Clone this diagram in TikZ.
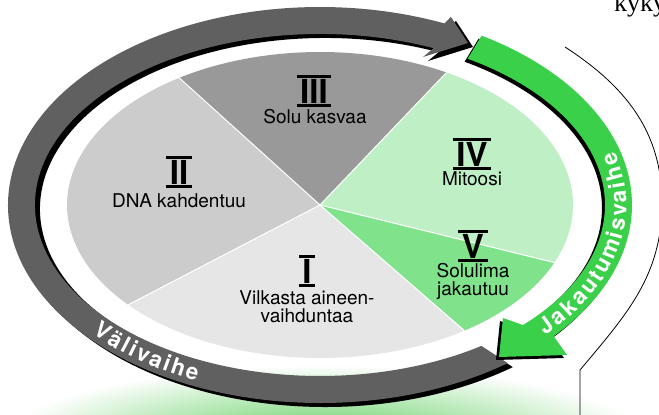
\documentclass[tikz,border=0pt]{standalone}
\usepackage{fontspec}
\setmainfont{TeX Gyre Heros}
\newfontfamily\kykyserif{Liberation Serif}
\usetikzlibrary{calc}
\definecolor{bandgrey}{RGB}{96,96,96}
\definecolor{bandgreen}{RGB}{59,208,73}
\definecolor{pieIII}{RGB}{153,153,153}
\definecolor{pieII}{RGB}{204,204,204}
\definecolor{pieI}{RGB}{230,230,230}
\definecolor{pieIV}{RGB}{191,239,196}
\definecolor{pieV}{RGB}{128,226,139}
\definecolor{glowgreen}{RGB}{90,205,90}
\newcommand\bandfont{\fontsize{22.5}{22.5}\selectfont\bfseries}
\newcommand\numfont{\fontsize{33}{33}\selectfont\bfseries}
\newcommand\rn[1]{\vbox{\hrule height 3.4pt\kern0.5pt\hbox{\kern3.5pt\numfont#1\kern3.5pt}\kern0.5pt\hrule height 3.4pt}}
\def\greyarrow{([shift={(307:312 and 198)}]320,210) arc[start angle=307,end angle=66.5,x radius=312,y radius=198] -- (451,398) -- (468,372) -- (423,358) -- ([shift={(66.5:285 and 171)}]320,210) arc[start angle=66.5,end angle=304.5,x radius=285,y radius=171] -- cycle}
\def\greenarrow{([shift={(58.8:312 and 198)}]320,210) arc[start angle=58.8,end angle=-41.5,x radius=312,y radius=198] -- (567,60) -- (499,58) -- (503,97) -- ([shift={(-44.6:285 and 171)}]320,210) arc[start angle=-44.6,end angle=58.8,x radius=285,y radius=171] -- cycle}
\begin{document}
\begin{tikzpicture}[x=1pt,y=1pt,
  lbl/.style={font=\fontsize{19}{19}\selectfont, text=black, inner sep=0, anchor=base},
  numlbl/.style={inner sep=0, anchor=center},
  bandlbl/.style={font=\bandfont, text=white, inner sep=0, anchor=base},
  sep/.style={draw=white, line width=1pt},
  outline/.style={draw=black, line width=0.8pt}]
\useasboundingbox (0,0) rectangle (659,415);
% green glow below the ring
\shade[inner color=glowgreen, outer color=white] (325,-25) ellipse [x radius=320, y radius=75];
% grey arrow (Välivaihe)
\fill[black, shift={(5,-4)}] \greyarrow;
\fill[bandgrey] \greyarrow;
% green arrow (Jakautumisvaihe)
\fill[black, shift={(-3,-3)}] \greenarrow;
\fill[bandgreen] \greenarrow;
% pie
\coordinate (C) at (320,210);
\fill[pieIII] (C) -- ([shift={(60:253 and 153)}]320,210) arc[start angle=60,end angle=123.8,x radius=253,y radius=153] -- cycle;
\fill[pieII] (C) -- ([shift={(123.8:253 and 153)}]320,210) arc[start angle=123.8,end angle=220.7,x radius=253,y radius=153] -- cycle;
\fill[pieI] (C) -- ([shift={(220.7:253 and 153)}]320,210) arc[start angle=220.7,end angle=304.8,x radius=253,y radius=153] -- cycle;
\fill[pieV] (C) -- ([shift={(304.8:253 and 153)}]320,210) arc[start angle=304.8,end angle=337.9,x radius=253,y radius=153] -- cycle;
\fill[pieIV] (C) -- ([shift={(337.9:253 and 153)}]320,210) arc[start angle=337.9,end angle=420,x radius=253,y radius=153] -- cycle;
\foreach \a in {60,123.8,220.7,304.8,337.9} \draw[sep] (C) -- ([shift={(\a:253 and 153)}]320,210);
% labels
\node[numlbl] (n3) at (314,324) {\rn{III}};
\node[lbl] (t3) at (315,291) {Solu kasvaa};
\node[numlbl] (n2) at (179,243) {\rn{II}};
\node[lbl] (t2) at (179,207) {DNA kahdentuu};
\node[numlbl] (n4) at (472,261) {\rn{IV}};
\node[lbl] (t4) at (472,229) {Mitoosi};
\node[numlbl] (n5) at (473,169) {\rn{V}};
\node[lbl] (t5a) at (473,137) {Solulima};
\node[lbl] (t5b) at (473,119) {jakautuu};
\node[numlbl] (n1) at (307,144) {\rn{I}};
\node[lbl] (t1a) at (307,110) {Vilkasta aineen-};
\node[lbl] (t1b) at (307,92) {vaihduntaa};
% band texts, letter by letter along the ring
\foreach \ch/\t [count=\i] in {V/223.7,ä/227.3,l/229.8,i/231.7,v/234.1,a/237.1,i/239.5,h/242.0,e/245.0} {
  \pgfmathsetmacro\rot{atan2(192.5*cos(\t),-306.5*sin(\t))}
  \node[bandlbl, rotate=\rot] (va\i) at ([shift={(\t:306.5 and 192.5)}]320,210) {\ch};
}
\foreach \ch/\t [count=\i] in {J/-41.2,a/-37.7,k/-34.07,a/-30.35,u/-26.39,t/-22.92,u/-19.31,m/-14.04,i/-9.61,s/-6.09,v/-1.7,a/2.72,i/6.27,h/9.95,e/14.4} {
  \pgfmathsetmacro\rot{atan2(192.5*cos(\t),-306.5*sin(\t))}
  \node[bandlbl, rotate=\rot] (ja\i) at ([shift={(\t:306.5 and 192.5)}]320,210) {\ch};
}
% outer page line at right
\coordinate (r1) at (565,368);
\coordinate (r2) at (662,212);
\coordinate (r3) at (580,45);
\coordinate (r4) at (580,-1);
\draw[outline] (r1) to[out=-33,in=90] (r2) to[out=-90,in=50] (r3) -- (r4);
\node[font=\kykyserif\fontsize{26}{26}\selectfont, anchor=base west, inner sep=0] (ky) at (614,403) {kyky};
\end{tikzpicture}
\end{document}
